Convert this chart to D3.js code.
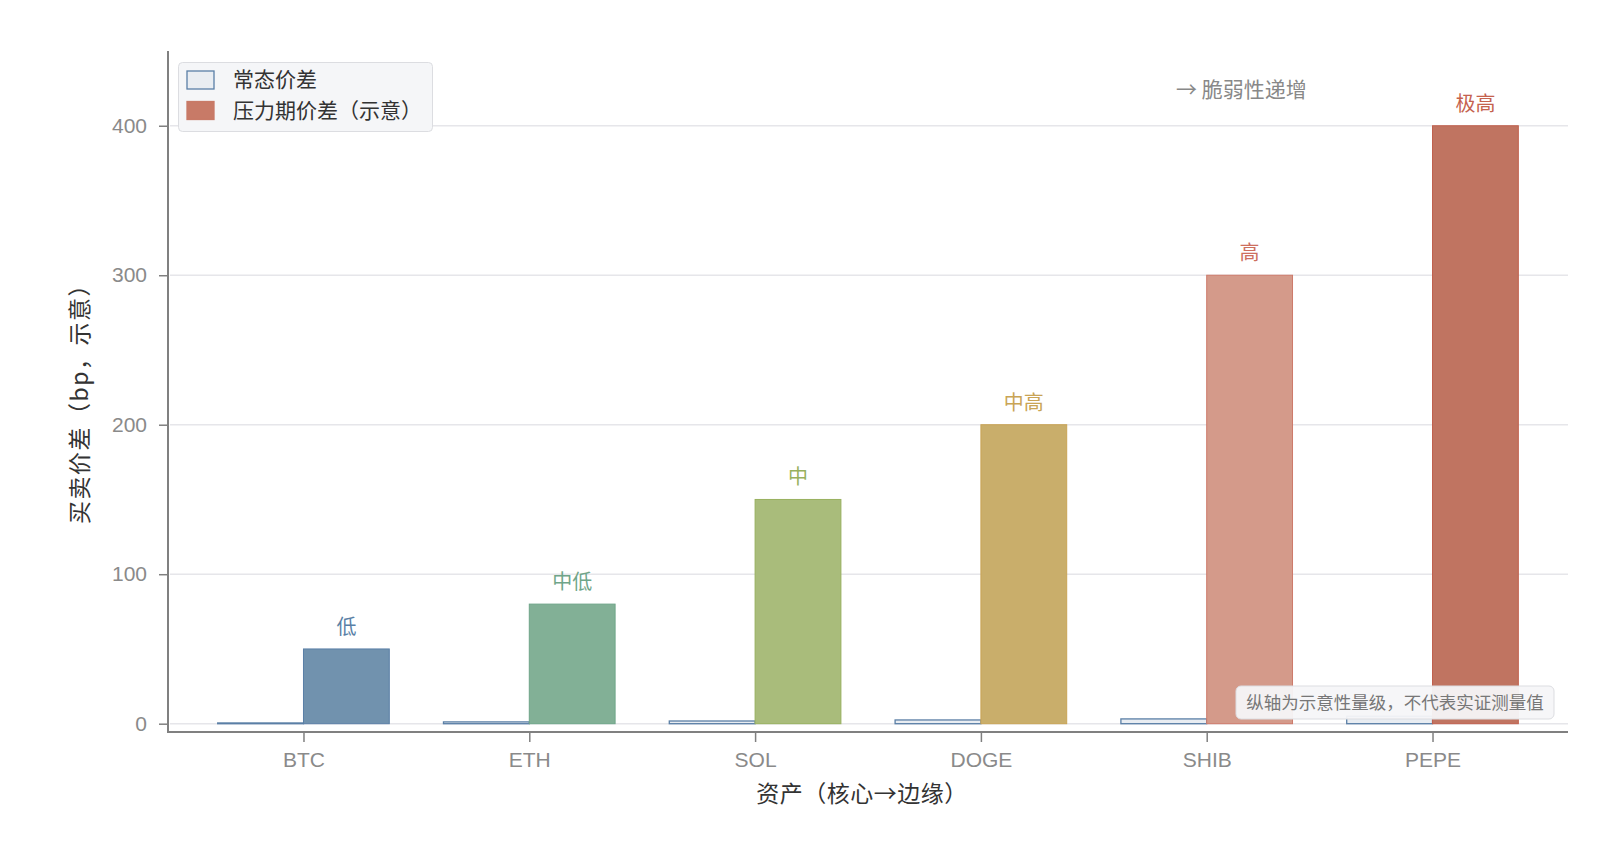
<!DOCTYPE html>
<html>
<head>
<meta charset="utf-8">
<script src="https://cdn.jsdelivr.net/npm/d3@7"></script>
<style>
  body { margin: 0; background: #fff; }
  svg { display: block; font-family: "Liberation Sans", "Noto Sans CJK SC", sans-serif; }
  .cjk { font-family: "Noto Sans CJK SC", sans-serif; }
</style>
</head>
<body>
<script>
// data
const assets = ['BTC', 'ETH', 'SOL', 'DOGE', 'SHIB', 'PEPE'];
const normalSpread = [0.5, 1.2, 1.8, 2.5, 3.2, 5];
const stressSpread = [50, 80, 150, 200, 300, 400];
const levelLabels = ['低', '中低', '中', '中高', '高', '极高'];
const yTicks = [0, 100, 200, 300, 400];

const stressFill = ['#7192ae', '#82b096', '#a9bc7b', '#c9ae6b', '#d49a8a', '#c07461'];
const stressStroke = ['#5a7fa6', '#6fa589', '#98b15e', '#c9a455', '#cd7a6a', '#c0604d'];
const labelColor = ['#5a7fa6', '#6fa589', '#98b15e', '#c9a455', '#cd6f5e', '#c5624e'];

const w = 1600, h = 856;

let svg = d3.select('body').append('svg')
    .attr('width', w)
    .attr('height', h);

let x = d3.scalePoint()
    .domain(assets)
    .range([168, 1568])
    .padding(0.6);

let bw = x.step() * 0.38;

let y = d3.scaleLinear()
    .domain([0, 450])
    .range([723.7, 51]);

// gridlines
svg.append('g')
    .selectAll('line')
    .data(yTicks)
    .enter()
    .append('line')
    .attr('x1', 170)
    .attr('x2', 1568)
    .attr('y1', d => y(d))
    .attr('y2', d => y(d))
    .attr('stroke', '#e6e6ea')
    .attr('stroke-width', 1.5);

// normal bars
svg.append('g')
    .selectAll('rect')
    .data(assets)
    .enter()
    .append('rect')
    .attr('x', d => x(d) - bw)
    .attr('y', (d, i) => y(normalSpread[i]))
    .attr('width', bw)
    .attr('height', (d, i) => y(0) - y(normalSpread[i]))
    .attr('fill', '#e9edf2')
    .attr('stroke', '#5a7fa6')
    .attr('stroke-width', 1.3);

// stress bars
svg.append('g')
    .selectAll('rect')
    .data(assets)
    .enter()
    .append('rect')
    .attr('x', d => x(d))
    .attr('y', (d, i) => y(stressSpread[i]))
    .attr('width', bw)
    .attr('height', (d, i) => y(0) - y(stressSpread[i]))
    .attr('fill', (d, i) => stressFill[i])
    .attr('stroke', (d, i) => stressStroke[i])
    .attr('stroke-width', 1);

// level labels above stress bars
svg.append('g')
    .selectAll('text')
    .data(assets)
    .enter()
    .append('text')
    .attr('class', 'cjk')
    .attr('x', d => x(d) + bw / 2)
    .attr('y', (d, i) => y(stressSpread[i]) - 15)
    .attr('text-anchor', 'middle')
    .attr('font-size', 20)
    .attr('fill', (d, i) => labelColor[i])
    .text((d, i) => levelLabels[i]);

// axes
let yAxis = d3.axisLeft(y)
    .tickValues(yTicks)
    .tickSize(9)
    .tickPadding(12);

let gy = svg.append('g')
    .attr('transform', 'translate(168,0)')
    .call(yAxis);
gy.select('.domain').remove();
gy.selectAll('.tick line').attr('stroke', '#808080').attr('stroke-width', 1.5);
gy.selectAll('.tick text')
    .attr('font-size', 21)
    .attr('fill', '#8a8a8a')
    .attr('font-family', '"Liberation Sans", sans-serif');

let xAxis = d3.axisBottom(x)
    .tickSize(10)
    .tickPadding(10);

let gx = svg.append('g')
    .attr('transform', 'translate(0,732)')
    .call(xAxis);
gx.select('.domain').remove();
gx.selectAll('.tick line').attr('stroke', '#808080').attr('stroke-width', 1.5);
gx.selectAll('.tick text')
    .attr('font-size', 21)
    .attr('fill', '#8a8a8a')
    .attr('font-family', '"Liberation Sans", sans-serif');

// spines
svg.append('path')
    .attr('d', 'M168,51V732H1568')
    .attr('fill', 'none')
    .attr('stroke', '#808080')
    .attr('stroke-width', 2);

// axis titles
svg.append('text')
    .attr('class', 'cjk')
    .attr('transform', 'translate(88,398) rotate(-90)')
    .attr('text-anchor', 'middle')
    .attr('font-size', 23)
    .attr('letter-spacing', 1.5)
    .attr('fill', '#333')
    .text('买卖价差（bp，示意）');

svg.append('text')
    .attr('class', 'cjk')
    .attr('x', 862)
    .attr('y', 802)
    .attr('text-anchor', 'middle')
    .attr('font-size', 23)
    .attr('letter-spacing', 0.5)
    .attr('fill', '#333')
    .text('资产（核心→边缘）');

// fragility note
svg.append('text')
    .attr('class', 'cjk')
    .attr('x', 1176)
    .attr('y', 97)
    .attr('font-size', 21)
    .attr('fill', '#888')
    .text('→\u00a0脆弱性递增');

// legend
let legend = svg.append('g');
legend.append('rect')
    .attr('x', 178.5)
    .attr('y', 62.5)
    .attr('width', 254)
    .attr('height', 69)
    .attr('rx', 4)
    .attr('fill', '#f5f6f8')
    .attr('stroke', '#dcdde1');

let legendItems = [
    {name: '常态价差', fill: '#e9edf2', stroke: '#5a7fa6'},
    {name: '压力期价差（示意）', fill: '#c87a67', stroke: '#c87a67'}
];

let li = legend.selectAll('g.item')
    .data(legendItems)
    .enter()
    .append('g')
    .attr('class', 'item')
    .attr('transform', (d, i) => `translate(187,${71 + i * 30.5})`);

li.append('rect')
    .attr('width', 27)
    .attr('height', 18)
    .attr('fill', d => d.fill)
    .attr('stroke', d => d.stroke)
    .attr('stroke-width', 1.3);

li.append('text')
    .attr('x', 46)
    .attr('y', 9)
    .attr('dy', '0.35em')
    .attr('font-size', 21)
    .attr('fill', '#333')
    .text(d => d.name);

// bottom-right disclaimer
let note = svg.append('g');
note.append('rect')
    .attr('x', 1236)
    .attr('y', 686)
    .attr('width', 318)
    .attr('height', 33)
    .attr('rx', 5)
    .attr('fill', '#f5f6f8')
    .attr('fill-opacity', 0.95)
    .attr('stroke', '#dcdde1');
note.append('text')
    .attr('class', 'cjk')
    .attr('x', 1395)
    .attr('y', 702.5)
    .attr('dy', '0.35em')
    .attr('text-anchor', 'middle')
    .attr('font-size', 17.5)
    .attr('fill', '#777')
    .text('纵轴为示意性量级，不代表实证测量值');
</script>
</body>
</html>
